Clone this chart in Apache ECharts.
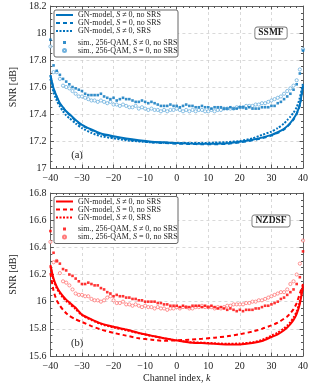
<!DOCTYPE html>
<html>
<head>
<meta charset="utf-8">
<script src="https://cdn.jsdelivr.net/npm/echarts@6/dist/echarts.min.js"></script>
<style>
  html, body { margin: 0; padding: 0; background: #fff; }
  #chart { width: 321px; height: 388px; }
</style>
</head>
<body>
<div id="chart"></div>
<script>
// channel index for the model curves
const kLine = [-40, -39, -38, -37, -36, -35, -34, -32, -30, -27, -24, -20, -16, -12, -8, -4, 0,
  4, 8, 12, 16, 20, 24, 27, 30, 32, 34, 35, 36, 37, 38, 39, 40];
// channel index for the simulation points
const kSim = [-40, -39, -38, -37, -36, -35, -34, -33, -32, -31, -30, -29, -28, -27, -26, -25, -24,
  -23, -22, -21, -20, -19, -18, -17, -16, -15, -14, -13, -12, -11, -10, -9, -8, -7, -6, -5, -4,
  -3, -2, -1, 0, 1, 2, 3, 4, 5, 6, 7, 8, 9, 10, 11, 12, 13, 14, 15, 16, 17, 18, 19, 20, 21, 22,
  23, 24, 25, 26, 27, 28, 29, 30, 31, 32, 33, 34, 35, 36, 37, 38, 39, 40];

// (a) SSMF
const ssmfGn = [17.69, 17.59, 17.53, 17.48, 17.45, 17.42, 17.40, 17.355, 17.32, 17.285, 17.255, 17.235,
  17.218, 17.205, 17.195, 17.19, 17.185, 17.182, 17.18, 17.18, 17.183, 17.195, 17.21, 17.225, 17.245,
  17.265, 17.29, 17.31, 17.335, 17.365, 17.405, 17.47, 17.61];
const ssmfGnS0 = [17.685, 17.585, 17.525, 17.475, 17.445, 17.415, 17.395, 17.35, 17.315, 17.28, 17.25, 17.23,
  17.213, 17.2, 17.19, 17.185, 17.18, 17.178, 17.176, 17.176, 17.179, 17.19, 17.205, 17.22, 17.24,
  17.26, 17.285, 17.305, 17.33, 17.36, 17.40, 17.465, 17.605];
const ssmfGnSrs = [17.66, 17.56, 17.50, 17.455, 17.42, 17.39, 17.37, 17.33, 17.295, 17.26, 17.235, 17.22,
  17.205, 17.197, 17.19, 17.187, 17.185, 17.185, 17.185, 17.188, 17.192, 17.20, 17.22, 17.245, 17.27,
  17.295, 17.33, 17.355, 17.38, 17.41, 17.45, 17.52, 17.63];
const ssmfSim = [17.95, 17.76, 17.72, 17.69, 17.66, 17.64, 17.62, 17.60, 17.59, 17.58, 17.57, 17.55, 17.54,
  17.54, 17.54, 17.54, 17.55, 17.53, 17.52, 17.51, 17.52, 17.50, 17.51, 17.52, 17.51, 17.51, 17.50, 17.49,
  17.49, 17.50, 17.49, 17.48, 17.49, 17.48, 17.47, 17.46, 17.46, 17.46, 17.47, 17.46, 17.46, 17.45, 17.46,
  17.47, 17.46, 17.46, 17.45, 17.45, 17.46, 17.45, 17.45, 17.44, 17.45, 17.45, 17.45, 17.44, 17.44, 17.45,
  17.44, 17.44, 17.45, 17.45, 17.44, 17.45, 17.44, 17.44, 17.44, 17.45, 17.45, 17.45, 17.46, 17.46, 17.48,
  17.49, 17.51, 17.53, 17.55, 17.58, 17.62, 17.70, 17.87];
const ssmfSimS0 = [17.90, 17.71, 17.71, 17.66, 17.61, 17.60, 17.59, 17.57, 17.55, 17.53, 17.53, 17.52, 17.51,
  17.50, 17.50, 17.49, 17.50, 17.49, 17.48, 17.49, 17.47, 17.47, 17.46, 17.47, 17.46, 17.45, 17.45, 17.46,
  17.44, 17.45, 17.44, 17.43, 17.44, 17.43, 17.43, 17.42, 17.43, 17.42, 17.43, 17.43, 17.44, 17.43, 17.42,
  17.43, 17.42, 17.43, 17.42, 17.43, 17.43, 17.42, 17.42, 17.43, 17.42, 17.43, 17.43, 17.44, 17.44, 17.44,
  17.44, 17.45, 17.45, 17.45, 17.46, 17.46, 17.46, 17.47, 17.47, 17.48, 17.48, 17.49, 17.50, 17.51, 17.52,
  17.53, 17.55, 17.57, 17.59, 17.61, 17.65, 17.73, 17.88];

// (b) NZDSF
const nzGn = [16.27, 16.17, 16.11, 16.07, 16.04, 16.015, 15.995, 15.955, 15.905, 15.87, 15.84, 15.815,
  15.795, 15.77, 15.75, 15.73, 15.715, 15.70, 15.695, 15.69, 15.685, 15.685, 15.695, 15.71, 15.74,
  15.76, 15.79, 15.81, 15.835, 15.865, 15.91, 15.985, 16.11];
const nzGnS0 = [16.21, 16.08, 16.01, 15.97, 15.94, 15.915, 15.895, 15.87, 15.85, 15.82, 15.795, 15.77,
  15.75, 15.73, 15.72, 15.712, 15.715, 15.72, 15.727, 15.735, 15.745, 15.76, 15.78, 15.80, 15.825,
  15.845, 15.875, 15.89, 15.915, 15.945, 15.99, 16.06, 16.13];
const nzGnSrs = [16.26, 16.16, 16.10, 16.06, 16.03, 16.005, 15.985, 15.945, 15.90, 15.865, 15.835, 15.81,
  15.79, 15.768, 15.748, 15.73, 15.715, 15.702, 15.698, 15.694, 15.69, 15.692, 15.70, 15.718, 15.75,
  15.772, 15.803, 15.825, 15.85, 15.882, 15.928, 16.0, 16.12];
const nzSim = [16.52, 16.36, 16.30, 16.28, 16.24, 16.23, 16.20, 16.19, 16.17, 16.15, 16.13, 16.13, 16.14,
  16.13, 16.12, 16.12, 16.10, 16.09, 16.07, 16.06, 16.04, 16.05, 16.04, 16.04, 16.03, 16.03, 16.02, 16.02,
  16.01, 16.01, 16.00, 16.00, 16.00, 16.00, 15.99, 15.99, 15.98, 15.98, 15.97, 15.97, 15.97, 15.96, 15.97,
  15.96, 15.96, 15.97, 15.97, 15.97, 15.96, 15.97, 15.96, 15.97, 15.96, 15.95, 15.96, 15.95, 15.94, 15.95,
  15.94, 15.93, 15.94, 15.93, 15.94, 15.94, 15.94, 15.95, 15.95, 15.96, 15.97, 15.97, 15.98, 15.99, 16.00,
  16.02, 16.03, 16.05, 16.07, 16.09, 16.13, 16.18, 16.37];
const nzSimS0 = [16.44, 16.29, 16.30, 16.21, 16.15, 16.14, 16.12, 16.09, 16.06, 16.05, 16.05, 16.04, 16.04,
  16.02, 16.01, 16.01, 16.00, 16.01, 16.03, 16.04, 16.01, 15.99, 15.99, 16.00, 15.98, 15.98, 15.97, 15.98,
  15.97, 15.96, 15.97, 15.96, 15.96, 15.95, 15.96, 15.95, 15.95, 15.94, 15.95, 15.95, 15.96, 15.95, 15.96,
  15.96, 15.95, 15.95, 15.96, 15.96, 15.97, 15.96, 15.96, 15.96, 15.95, 15.96, 15.95, 15.96, 15.97, 15.97,
  15.98, 15.98, 15.98, 15.98, 15.99, 15.99, 16.00, 16.00, 16.01, 16.01, 16.02, 16.03, 16.04, 16.05, 16.06,
  16.07, 16.07, 16.09, 16.13, 16.15, 16.20, 16.28, 16.45];

const xTicks = ['−40', '−30', '−20', '−10', '0', '10', '20', '30', '40'];

const legLines = ['GN-model, S ≠ 0, no SRS', 'GN-model, S = 0, no SRS', 'GN-model, S ≠ 0, SRS'];
const legSims = ['sim., 256-QAM, S ≠ 0, no SRS', 'sim., 256-QAM, S = 0, no SRS'];

const FONT = 'Liberation Serif';
const BLUE = '#0072bd', BLUE_L = '#4d9fd6';
const RED = '#ff0000', RED_L = '#ff5a5a';

function zip(xs, ys) { return xs.map((x, i) => [x, ys[i]]); }

function lineSeries(p, idx, name, xs, ys, color, type) {
  return {
    type: 'line', name: p + name, xAxisIndex: idx, yAxisIndex: idx,
    data: zip(xs, ys), symbol: 'none', smooth: 0.2, z: 3,
    lineStyle: { color: color, width: 2, type: type }, itemStyle: { color: color }
  };
}
function simSeries(p, idx, name, ys, color, hollow) {
  return {
    type: 'scatter', name: p + name, xAxisIndex: idx, yAxisIndex: idx,
    data: zip(kSim, ys), z: 2,
    symbol: hollow ? 'circle' : 'rect', symbolSize: hollow ? 3.2 : 2.6,
    itemStyle: hollow ? { color: '#fff', borderColor: color, borderWidth: 0.8 } : { color: color }
  };
}

const gridLine = { show: true, lineStyle: { color: '#d0d0d0', type: [3, 3], width: 0.8 } };
const frame = { show: true, onZero: false, lineStyle: { color: '#555', width: 0.9 } };

function xAxes(gi, showName) {
  return [{
    type: 'value', gridIndex: gi, min: -40, max: 40, interval: 10,
    axisLine: frame, splitLine: gridLine,
    axisTick: { inside: true, length: 3.5, lineStyle: { color: '#555' } },
    minorTick: { show: true, splitNumber: 5, length: 2, lineStyle: { color: '#555' } },
    axisLabel: { fontFamily: FONT, fontSize: 10, color: '#222', margin: 5,
      formatter: v => xTicks[(v + 40) / 10] },
    name: showName ? '{n|Channel index, }{i|k}' : '', nameLocation: 'middle', nameGap: 17,
    nameTextStyle: { rich: {
      n: { fontFamily: FONT, fontSize: 10, color: '#222' },
      i: { fontFamily: FONT, fontSize: 10, color: '#222', fontStyle: 'italic' } } }
  }, {
    type: 'value', gridIndex: gi, position: 'top', min: -40, max: 40, interval: 10,
    axisLine: frame, splitLine: { show: false }, axisLabel: { show: false },
    axisTick: { inside: true, length: 3.5, lineStyle: { color: '#555' } },
    minorTick: { show: true, splitNumber: 5, length: 2, lineStyle: { color: '#555' } }
  }];
}
function yAxes(gi, lo, hi) {
  return [{
    type: 'value', gridIndex: gi, min: lo, max: hi, interval: 0.2,
    axisLine: frame, splitLine: gridLine,
    axisTick: { inside: true, length: 3.5, lineStyle: { color: '#555' } },
    minorTick: { show: true, splitNumber: 4, length: 2, lineStyle: { color: '#555' } },
    axisLabel: { fontFamily: FONT, fontSize: 10, color: '#222', margin: 4,
      formatter: v => String(Math.round(v * 10) / 10) },
    name: 'SNR [dB]', nameLocation: 'middle', nameGap: 26,
    nameTextStyle: { fontFamily: FONT, fontSize: 10, color: '#222' }
  }, {
    type: 'value', gridIndex: gi, position: 'right', min: lo, max: hi, interval: 0.2,
    axisLine: frame, splitLine: { show: false }, axisLabel: { show: false },
    axisTick: { inside: true, length: 3.5, lineStyle: { color: '#555' } },
    minorTick: { show: true, splitNumber: 4, length: 2, lineStyle: { color: '#555' } }
  }];
}

const legRich = {
  i: { fontFamily: FONT, fontSize: 8, lineHeight: 8, fontStyle: 'italic', color: '#222' },
  sp: { width: 7, lineHeight: 8 }
};
// model curves: line icon only (hide the symbol that echarts puts on it)
function legendLines(p, top) {
  return {
    left: 55, top: top, orient: 'vertical', padding: 0, itemGap: 0, z: 20,
    itemWidth: 17, itemHeight: 6, selectedMode: false,
    itemStyle: { color: 'rgba(0,0,0,0)', borderColor: 'rgba(0,0,0,0)', borderWidth: 0 },
    data: legLines.map(n => p + n),
    formatter: name => name.slice(2).replace(', S ', ', {i|S} '),
    textStyle: { fontFamily: FONT, fontSize: 8, lineHeight: 8, color: '#222', rich: legRich }
  };
}
// simulations: small marker centred under the line icons
function legendSims(p, top) {
  return {
    left: 62, top: top, orient: 'vertical', padding: 0, itemGap: 0, z: 20,
    itemWidth: 3, itemHeight: 3, selectedMode: false,
    data: legSims.map(n => p + n),
    formatter: name => '{sp|}' + name.slice(2).replace(', S ', ', {i|S} '),
    textStyle: { fontFamily: FONT, fontSize: 8, lineHeight: 8, color: '#222', rich: legRich }
  };
}

function boxLabel(txt, x, y) {
  return { type: 'text', x: x, y: y, z: 10, style: {
    text: txt, fontFamily: FONT, fontSize: 9.5, fontWeight: 'bold', fill: '#222',
    align: 'center', verticalAlign: 'middle', backgroundColor: '#fff',
    borderColor: '#777', borderWidth: 0.9, borderRadius: 2, padding: [1, 3, 0, 3] } };
}
function plainLabel(txt, x, y) {
  return { type: 'text', x: x, y: y, z: 10, style: {
    text: txt, fontFamily: FONT, fontSize: 10.5, fill: '#222', align: 'center', verticalAlign: 'middle' } };
}
function legBox(y) {
  return { type: 'rect', shape: { x: 54, y: y, width: 124, height: 47, r: 2 }, z: 10,
    style: { fill: '#fff', stroke: '#555', lineWidth: 0.9 } };
}

const chart = echarts.init(document.getElementById('chart'), null, { renderer: 'canvas' });
chart.setOption({
  animation: false,
  backgroundColor: '#fff',
  grid: [
    { left: 45, top: 6, width: 258, height: 162 },
    { left: 45, top: 193, width: 258, height: 163 }
  ],
  xAxis: [...xAxes(0, false), ...xAxes(1, true)],
  yAxis: [...yAxes(0, 17, 18.2), ...yAxes(1, 15.6, 16.8)],
  legend: [
    legendLines('a|', 11),
    legendSims('a|', 38.5),
    legendLines('b|', 197.5),
    legendSims('b|', 225)
  ],
  graphic: [
    legBox(10), legBox(196.5),
    boxLabel('SSMF', 271, 33), boxLabel('NZDSF', 271, 221),
    plainLabel('(a)', 77, 155), plainLabel('(b)', 77, 343)
  ],
  series: [
    simSeries('a|', 0, legSims[1], ssmfSimS0, BLUE_L, true),
    simSeries('a|', 0, legSims[0], ssmfSim, BLUE, false),
    lineSeries('a|', 0, legLines[2], kLine, ssmfGnSrs, BLUE, [2, 1.5]),
    lineSeries('a|', 0, legLines[1], kLine, ssmfGnS0, BLUE, [4, 3]),
    lineSeries('a|', 0, legLines[0], kLine, ssmfGn, BLUE, 'solid'),
    simSeries('b|', 2, legSims[1], nzSimS0, RED_L, true),
    simSeries('b|', 2, legSims[0], nzSim, RED, false),
    lineSeries('b|', 2, legLines[2], kLine, nzGnSrs, RED, [2, 1.5]),
    lineSeries('b|', 2, legLines[1], kLine, nzGnS0, RED, [4, 3]),
    lineSeries('b|', 2, legLines[0], kLine, nzGn, RED, 'solid')
  ]
});
</script>
</body>
</html>
